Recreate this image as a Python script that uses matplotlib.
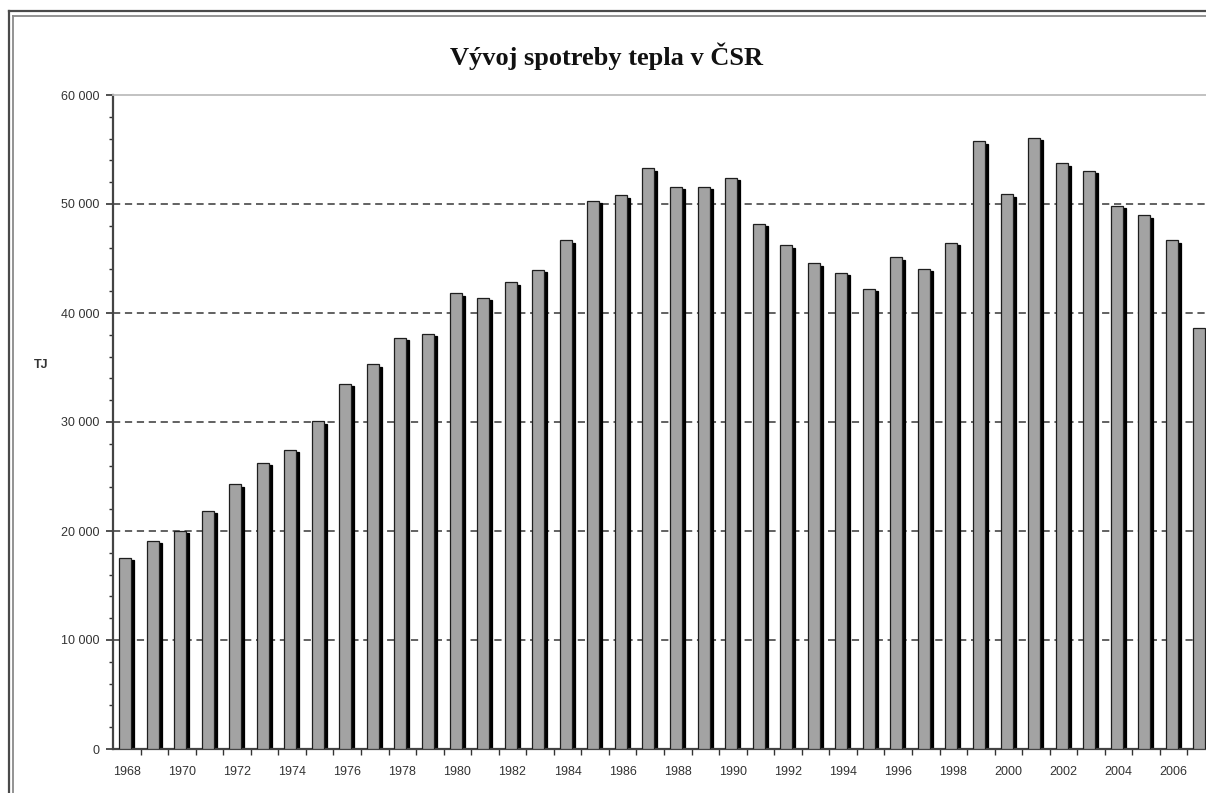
import matplotlib
matplotlib.use("Agg")
from matplotlib import pyplot as plt
from matplotlib.lines import Line2D
from matplotlib.transforms import offset_copy
from matplotlib.ticker import FuncFormatter, MultipleLocator

years = list(range(1968, 2008))
values = [17560, 19090, 20010, 21840, 24310, 26260, 27450, 30080, 33530, 35300,
          37750, 38110, 41830, 41410, 42840, 43990, 46660, 50320, 50780, 53280,
          51600, 51600, 52400, 48190, 46200, 44580, 43700, 42230, 45130, 44070,
          46450, 55750, 50900, 56060, 53740, 53070, 49860, 48950, 46660, 38660]
label_years = [y for y in years if y % 2 == 0 and y <= 2006]
title = "Vývoj spotreby tepla v ČSR"
unit = "TJ"

W, H = 1206, 793
fig = plt.figure(figsize=(W / 100, H / 100), dpi=100)
# axes run past the right edge, the source picture is cut there
ax = fig.add_axes([113 / W, 44 / H, 1102 / W, 654 / H])

bar_w = 0.436
shift = -0.065
shadow = offset_copy(ax.transData, fig=fig, x=3, y=-2.5, units="dots")
xs = [y + shift for y in years]
ax.bar(xs, values, width=bar_w, color="black", edgecolor="black",
       linewidth=0.9, transform=shadow, zorder=2)
ax.bar(xs, values, width=bar_w, color="#a3a3a3", edgecolor="#1e1e1e",
       linewidth=0.9, zorder=3)

ax.set_xlim(years[0] - 0.5, years[-1] + 0.5)
ax.set_ylim(0, 60000)

# dashed grid
for v in range(10000, 60000, 10000):
    ax.axhline(v, color="#555555", lw=1.3, ls=(0, (4.0, 2.6)), zorder=1)

ax.yaxis.set_major_locator(MultipleLocator(10000))
ax.yaxis.set_minor_locator(MultipleLocator(2000))
ax.yaxis.set_major_formatter(FuncFormatter(lambda v, p: f"{int(v):,}".replace(",", " ")))

ax.set_xticks([y - 0.5 for y in years[1:]] + [years[-1] + 0.5])
ax.set_xticklabels([])
ax.set_xticks(label_years, minor=True)
ax.set_xticklabels([str(y) for y in label_years], minor=True)

ax.tick_params(axis="y", which="major", length=5, width=1.2, color="#333333",
               pad=5, labelsize=9, labelcolor="#333333")
ax.tick_params(axis="y", which="minor", length=3, width=1.0, color="#333333")
ax.tick_params(axis="x", which="major", length=4, width=1.0, color="#333333")
ax.tick_params(axis="x", which="minor", length=0, pad=12, labelsize=9,
               labelcolor="#333333")
for lab in ax.get_xticklabels(minor=True) + ax.get_yticklabels():
    lab.set_family("Liberation Sans")

ax.spines["left"].set_color("#444444")
ax.spines["left"].set_linewidth(1.6)
ax.spines["bottom"].set_color("#444444")
ax.spines["bottom"].set_linewidth(1.6)
ax.spines["top"].set_color("#bdbdbd")
ax.spines["top"].set_linewidth(1.3)
ax.spines["right"].set_visible(False)

fig.text(606 / W, 1 - 65 / H, title, ha="center", va="baseline",
         family="Liberation Serif", fontweight="bold", fontsize=19, color="#111111")
fig.text(41 / W, 1 - 365 / H, unit, ha="center", va="center",
         family="Liberation Sans", fontweight="bold", fontsize=9, color="#333333")

# double frame around the chart
fig.add_artist(Line2D([9 / W, 1], [1 - 11 / H, 1 - 11 / H], color="#4a4a4a", lw=1.6))
fig.add_artist(Line2D([13 / W, 1], [1 - 15.5 / H, 1 - 15.5 / H], color="#8a8a8a", lw=1.3))
fig.add_artist(Line2D([9 / W, 9 / W], [0, 1 - 11 / H], color="#4a4a4a", lw=1.6))
fig.add_artist(Line2D([13 / W, 13 / W], [0, 1 - 15.5 / H], color="#8a8a8a", lw=1.3))

fig.savefig("out.png", dpi=100)
